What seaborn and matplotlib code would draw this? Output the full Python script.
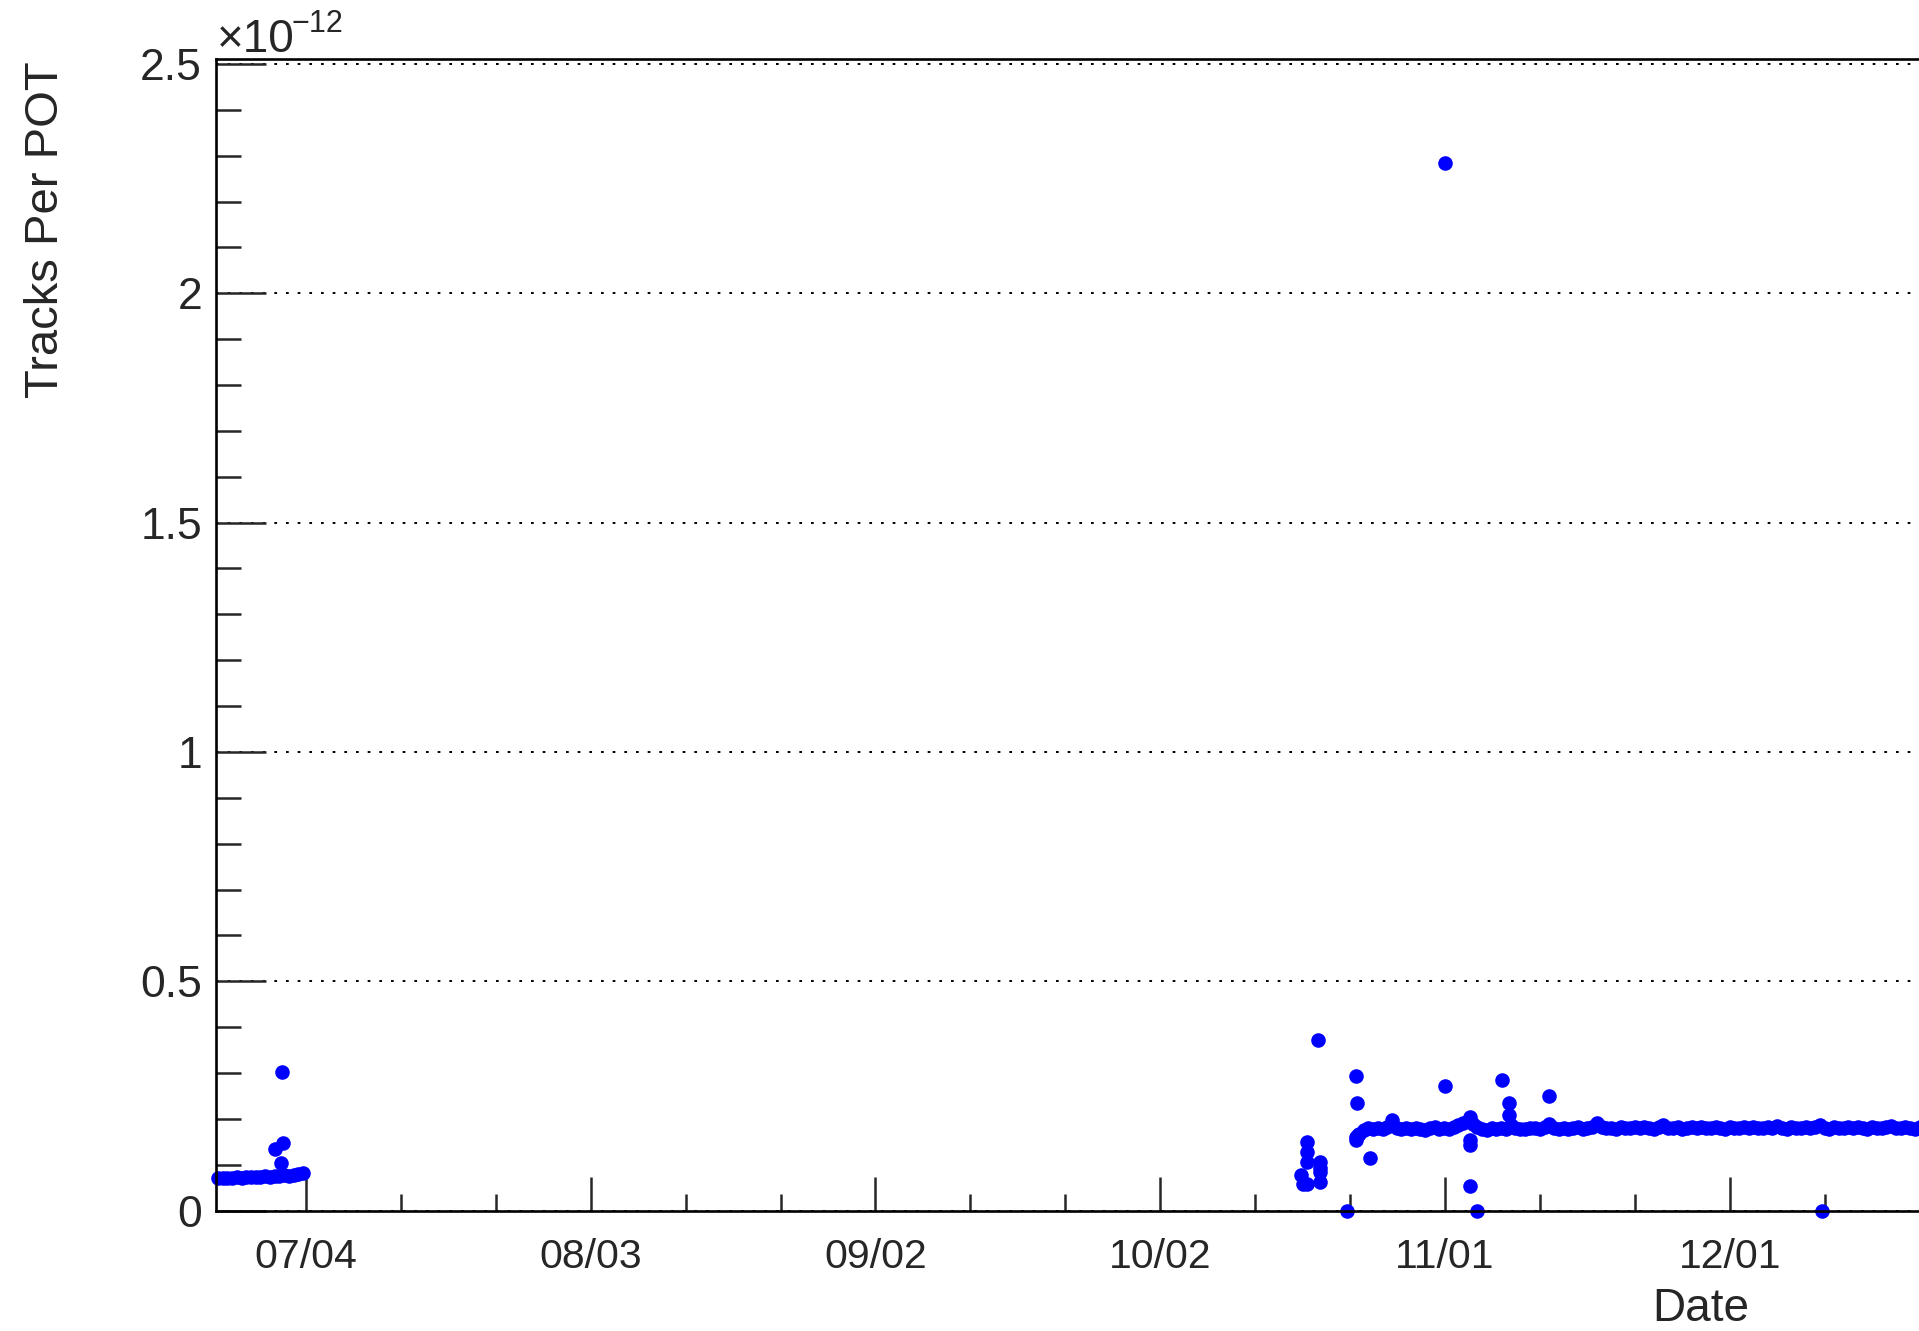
import pandas as pd
import numpy as np
import seaborn as sns
import matplotlib.pyplot as plt
import matplotlib.dates as mdates
from matplotlib.ticker import MultipleLocator, FixedLocator, FormatStrFormatter

# Tracks per POT, values in units of 1e-12

# early run, sampled every 12 h
jul_start = "2016-06-24 17:00"
jul_band = [0.071, 0.072, 0.071, 0.072, 0.073, 0.072, 0.073, 0.074, 0.073, 0.074,
            0.075, 0.074, 0.076, 0.075, 0.077, 0.076, 0.078, 0.079, 0.082]

# second run, first stretch (every 12 h)
oct_start = "2016-10-22 22:00"
oct_band = [0.168, 0.176, 0.180, 0.179, 0.181, 0.178, 0.182, 0.197, 0.181, 0.179,
            0.180, 0.178, 0.181, 0.179, 0.177, 0.180, 0.182, 0.179, 0.181, 0.178,
            0.183, 0.186, 0.192, 0.196, 0.188, 0.182, 0.179, 0.177, 0.180, 0.178,
            0.181, 0.179, 0.186, 0.180, 0.178, 0.179, 0.180]

# second run after the short break (every 12 h)
nov_start = "2016-11-10 12:00"
nov_band = [0.181, 0.179, 0.182, 0.190, 0.180, 0.178, 0.181, 0.179, 0.180, 0.182, 0.179, 0.181,
            0.183, 0.191, 0.182, 0.180, 0.181, 0.179, 0.182, 0.180, 0.181, 0.183, 0.180, 0.182,
            0.181, 0.179, 0.182, 0.187, 0.181, 0.180, 0.182, 0.179, 0.181, 0.183, 0.180, 0.182,
            0.181, 0.180, 0.183, 0.181, 0.179, 0.182, 0.180, 0.181, 0.183, 0.180, 0.182, 0.181,
            0.180, 0.182, 0.181, 0.184, 0.181, 0.179, 0.182, 0.180, 0.181, 0.183, 0.181, 0.182,
            0.186, 0.181, 0.179, 0.182, 0.180, 0.181, 0.183, 0.180, 0.182, 0.181, 0.179, 0.182,
            0.181, 0.180, 0.182, 0.184, 0.181, 0.180, 0.182, 0.181, 0.179, 0.182, 0.181, 0.180]

# scattered points / outliers
extra_times = ["2016-06-30 17:30", "2016-07-01 09:00", "2016-07-01 11:00", "2016-07-01 13:00",
               "2016-10-16 19:00", "2016-10-17 01:30", "2016-10-17 10:00", "2016-10-17 10:00",
               "2016-10-17 10:00", "2016-10-17 10:00",
               "2016-10-18 15:00", "2016-10-18 20:00", "2016-10-18 20:00", "2016-10-18 20:00",
               "2016-10-18 20:00", "2016-10-21 15:00",
               "2016-10-22 14:30", "2016-10-22 15:00", "2016-10-22 16:00", "2016-10-22 18:00",
               "2016-10-22 19:00", "2016-10-24 02:00",
               "2016-11-01 01:00", "2016-11-01 00:00",
               "2016-11-03 14:00", "2016-11-03 14:00", "2016-11-03 14:00", "2016-11-03 14:00",
               "2016-11-04 10:00", "2016-11-07 00:00", "2016-11-07 17:00", "2016-11-07 19:00",
               "2016-11-11 22:00", "2016-12-10 17:00"]
extra_vals = [0.134, 0.103, 0.303, 0.148,
              0.078, 0.058, 0.150, 0.129,
              0.107, 0.058,
              0.372, 0.107, 0.094, 0.085,
              0.063, 0.0,
              0.294, 0.160, 0.154, 0.235,
              0.165, 0.114,
              2.283, 0.272,
              0.205, 0.154, 0.143, 0.054,
              0.0, 0.286, 0.208, 0.234,
              0.251, 0.0]

tick_dates = ["2016-07-04", "2016-08-03", "2016-09-02", "2016-10-02", "2016-11-01", "2016-12-01"]
minor_end = "2016-12-31"
x_range = ["2016-06-24 12:30", "2017-01-01 00:00"]


def band_frame(start, vals):
    t = pd.date_range(start, periods=len(vals), freq="12h")
    return pd.DataFrame({"time": t, "tracks": vals})


df = pd.concat([
    band_frame(jul_start, jul_band),
    band_frame(oct_start, oct_band),
    band_frame(nov_start, nov_band),
    pd.DataFrame({"time": pd.to_datetime(extra_times), "tracks": extra_vals}),
], ignore_index=True)

sns.set_style("ticks")
plt.rcParams['font.family'] = ['Liberation Sans', 'DejaVu Sans']

fig = plt.figure(figsize=(19.19, 13.31), dpi=100)
# axes runs past the right edge of the canvas, like the cropped original
ax = fig.add_axes([216 / 1919, 0.09038, 1808 / 1919, 0.86507])

sns.scatterplot(data=df, x="time", y="tracks", ax=ax, color=(0, 0, 1),
                s=110, linewidth=0, legend=False)
for c in ax.collections:
    c.set_clip_on(False)

ax.set_xlim(pd.Timestamp(x_range[0]), pd.Timestamp(x_range[1]))
ax.set_ylim(0, 2.51)

# axis ticks
major = pd.to_datetime(tick_dates)
minor = pd.date_range(tick_dates[0], minor_end, freq="10D")
ax.xaxis.set_major_locator(FixedLocator(mdates.date2num(major)))
ax.xaxis.set_minor_locator(FixedLocator(mdates.date2num(minor)))
ax.xaxis.set_major_formatter(mdates.DateFormatter("%m/%d"))
ax.yaxis.set_major_locator(MultipleLocator(0.5))
ax.yaxis.set_minor_locator(MultipleLocator(0.1))
ax.yaxis.set_major_formatter(FormatStrFormatter("%g"))

ax.tick_params(axis="x", which="major", direction="in", length=24.5, width=1.8,
               labelsize=29.5, pad=20, top=False)
ax.tick_params(axis="x", which="minor", direction="in", length=12, width=1.8, top=False)
ax.tick_params(axis="y", which="major", direction="in", length=36, width=1.8,
               labelsize=32, pad=10, right=False)
ax.tick_params(axis="y", which="minor", direction="in", length=18, width=1.8, right=False)

for side in ["left", "bottom", "top"]:
    ax.spines[side].set_linewidth(1.9)
    ax.spines[side].set_color("black")
ax.spines["right"].set_visible(False)

ax.yaxis.grid(True, which="major", color="black", linewidth=1.4, linestyle=(0, (1.4, 4.6)))
ax.xaxis.grid(False)

ax.set_ylabel("Tracks Per POT", fontsize=34, loc="top")
ax.yaxis.set_label_coords(-0.082, 0.9985)
ax.set_xlabel("Date", fontsize=33, va="baseline")
ax.xaxis.set_label_coords(0.8213, -0.0958)

# exponent label
fig.text(217 / 1919, 1 - 51.7 / 1331, "\u00d710", fontsize=33, va="baseline", ha="left")
fig.text(291 / 1919, 1 - 31.7 / 1331, "\u221212", fontsize=22, va="baseline", ha="left")

fig.savefig("out.png", dpi=100)
